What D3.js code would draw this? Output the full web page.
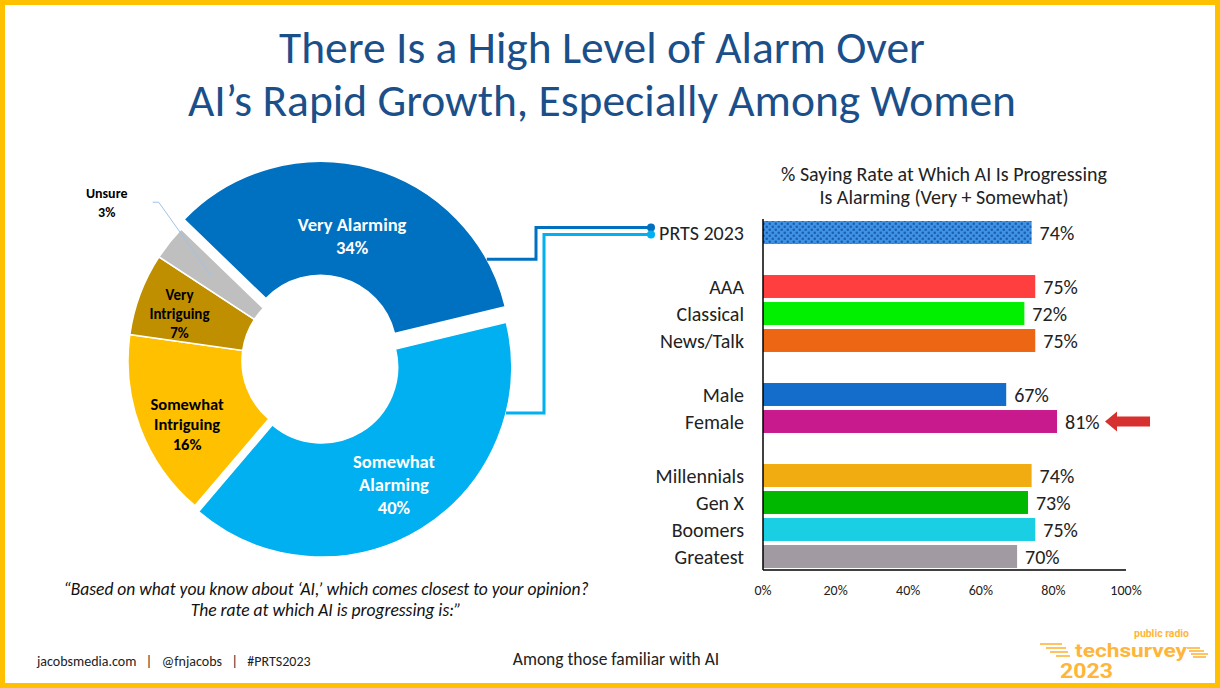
<!DOCTYPE html>
<html>
<head>
<meta charset="utf-8">
<script src="https://cdn.jsdelivr.net/npm/d3@7/dist/d3.min.js"></script>
<style>
	html, body { margin: 0; padding: 0; background: #fff; }
	svg { display: block; font-family: Carlito, Calibri, Lato, sans-serif; }
</style>
</head>
<body>
<div id="main"></div>
<script>
	// donut data
	var donutLabels = ['Very Alarming', 'Somewhat Alarming', 'Somewhat Intriguing', 'Very Intriguing', 'Unsure'];
	var donutValues = [34, 40, 16, 7, 3];
	var donutColors = ['#0070C0', '#00B0F0', '#FFC000', '#BF8F00', '#BFBFBF'];

	// bar data (null = spacer row)
	var barCategories = ['PRTS 2023', 'gap1', 'AAA', 'Classical', 'News/Talk', 'gap2', 'Male', 'Female', 'gap3', 'Millennials', 'Gen X', 'Boomers', 'Greatest'];
	var barValues = [74, null, 75, 72, 75, null, 67, 81, null, 74, 73, 75, 70];
	var barColors = ['url(#prts)', null, '#FF3F3F', '#00F000', '#EC6613', null, '#146CCB', '#C81A8C', null, '#F0AC10', '#00B800', '#1ACFE3', '#A29AA2'];
	var xTicks = [0, 20, 40, 60, 80, 100];

	var W = 1220, H = 688;
	var svg = d3.select('#main').append('svg')
		.attr('width', W)
		.attr('height', H);

	var defs = svg.append('defs');
	var pat = defs.append('pattern')
		.attr('id', 'prts')
		.attr('patternUnits', 'userSpaceOnUse')
		.attr('width', 6)
		.attr('height', 6);
	pat.append('rect').attr('width', 6).attr('height', 6).attr('fill', '#3F93E6');
	pat.append('rect').attr('x', 0.5).attr('y', 0.5).attr('width', 2.5).attr('height', 2.5).attr('rx', 1).attr('fill', '#1D5FAE');
	pat.append('rect').attr('x', 3.5).attr('y', 3.5).attr('width', 2.5).attr('height', 2.5).attr('rx', 1).attr('fill', '#1D5FAE');

	// slide border
	svg.append('rect')
		.attr('x', 2.5).attr('y', 2.5)
		.attr('width', W - 5).attr('height', H - 5)
		.attr('fill', '#fff')
		.attr('stroke', '#FFC000')
		.attr('stroke-width', 5);

	// title
	svg.append('text')
		.attr('text-anchor', 'middle')
		.attr('fill', '#1B4F8A')
		.attr('font-size', 45.5)
		.selectAll('tspan')
		.data(['There Is a High Level of Alarm Over', 'AI\u2019s Rapid Growth, Especially Among Women'])
		.enter().append('tspan')
		.attr('x', 602)
		.attr('y', (d, i) => 63 + i * 53)
		.text(d => d);

	// ---------- donut ----------
	var cx = 318, cy = 361, outerR = 190, innerR = 76;
	var explode = [10, 7, 0, 0, 0];
	var startA = -46 * Math.PI / 180;
	var pie = d3.pie().sort(null).startAngle(startA).endAngle(startA + 2 * Math.PI);
	var arc = d3.arc().innerRadius(innerR).outerRadius(outerR);
	var arcs = pie(donutValues);

	var donut = svg.append('g').attr('transform', 'translate(' + [cx, cy] + ')');

	function offset(d, i) {
		var m = (d.startAngle + d.endAngle) / 2;
		return [explode[i] * Math.sin(m), -explode[i] * Math.cos(m)];
	}

	donut.selectAll('path.slice')
		.data(arcs)
		.enter().append('path')
		.attr('class', 'slice')
		.attr('transform', (d, i) => 'translate(' + offset(d, i) + ')')
		.attr('d', arc)
		.attr('fill', (d, i) => donutColors[i])
		.attr('stroke', '#fff')
		.attr('stroke-width', 1.5);

	// point at radius r on a slice at a given angle (deg)
	function edgePoint(i, deg, r) {
		var a = deg * Math.PI / 180;
		var o = offset(arcs[i], i);
		return [cx + o[0] + r * Math.sin(a), cy + o[1] - r * Math.cos(a)];
	}

	// slice labels
	var labelLines = [['Very Alarming', '34%'], ['Somewhat', 'Alarming', '40%'], ['Somewhat', 'Intriguing', '16%'], ['Very', 'Intriguing', '7%'], ['Unsure', '3%']];
	var labelColor = ['#fff', '#fff', '#000', '#000', '#000'];
	var labelSize = [18.5, 18.5, 16.5, 15, 14];
	var labelR = [120, 138, 140, 148, 0];
	var labelNudge = [0, 0, 14, 5, 0];
	var labelGap = [23, 23, 20, 19, 19];

	arcs.forEach(function(d, i) {
		var m = (d.startAngle + d.endAngle) / 2;
		var o = offset(d, i);
		var lx, ly;
		if (i === 4) {
			var p = edgePoint(4, m * 180 / Math.PI, outerR + 10);
			lx = p[0] - 55; ly = p[1] - 34;
		} else {
			lx = cx + o[0] + labelR[i] * Math.sin(m);
			ly = cy + o[1] - labelR[i] * Math.cos(m) + labelNudge[i];
		}
		var n = labelLines[i].length;
		var t = svg.append('text')
			.attr('text-anchor', 'middle')
			.attr('font-weight', 'bold')
			.attr('font-size', labelSize[i])
			.attr('fill', labelColor[i]);
		labelLines[i].forEach(function(s, k) {
			t.append('tspan')
				.attr('x', lx)
				.attr('y', ly + (k - (n - 1) / 2) * labelGap[i] + labelSize[i] * 0.35)
				.text(s);
		});
		if (i === 4) {
			// leader line into the grey slice
			var inside = edgePoint(4, m * 180 / Math.PI, 137);
			svg.append('path')
				.attr('d', d3.line()([[lx + 46, ly], [lx + 52, ly], inside]))
				.attr('fill', 'none')
				.attr('stroke', '#9DC3E6')
				.attr('stroke-width', 1);
		}
	});

	// ---------- bar chart ----------
	var x = d3.scaleLinear().domain([0, 100]).range([763, 1126]);
	var y = d3.scaleBand().domain(barCategories).range([219, 570]).paddingInner(0.15).paddingOuter(0.075);

	svg.append('text')
		.attr('text-anchor', 'middle')
		.attr('font-size', 20)
		.attr('fill', '#222')
		.selectAll('tspan')
		.data(['% Saying Rate at Which AI Is Progressing', 'Is Alarming (Very + Somewhat)'])
		.enter().append('tspan')
		.attr('x', 944)
		.attr('y', (d, i) => 181 + i * 23)
		.text(d => d);

	var rows = barCategories.map((c, i) => ({ cat: c, v: barValues[i], col: barColors[i] }))
		.filter(d => d.v !== null);

	svg.selectAll('rect.bar')
		.data(rows)
		.enter().append('rect')
		.attr('class', 'bar')
		.attr('x', x(0))
		.attr('y', d => y(d.cat))
		.attr('width', d => x(d.v) - x(0))
		.attr('height', y.bandwidth())
		.attr('fill', d => d.col);

	svg.selectAll('text.cat')
		.data(rows)
		.enter().append('text')
		.attr('class', 'cat')
		.attr('x', 744)
		.attr('y', d => y(d.cat) + y.bandwidth() / 2)
		.attr('dy', '0.35em')
		.attr('text-anchor', 'end')
		.attr('font-size', 20)
		.attr('fill', '#222')
		.text(d => d.cat);

	svg.selectAll('text.val')
		.data(rows)
		.enter().append('text')
		.attr('class', 'val')
		.attr('x', d => x(d.v) + 8)
		.attr('y', d => y(d.cat) + y.bandwidth() / 2)
		.attr('dy', '0.35em')
		.attr('font-size', 20)
		.attr('fill', '#222')
		.text(d => d.v + '%');

	// axes
	svg.append('line')
		.attr('x1', x(0)).attr('x2', x(0))
		.attr('y1', 219).attr('y2', 570)
		.attr('stroke', '#000').attr('stroke-width', 1.5);
	svg.append('line')
		.attr('x1', x(0)).attr('x2', x(100))
		.attr('y1', 570).attr('y2', 570)
		.attr('stroke', '#000').attr('stroke-width', 1.5);
	svg.selectAll('text.tick')
		.data(xTicks)
		.enter().append('text')
		.attr('class', 'tick')
		.attr('x', d => x(d))
		.attr('y', 595)
		.attr('text-anchor', 'middle')
		.attr('font-size', 14)
		.attr('fill', '#222')
		.text(d => d + '%');

	// arrow pointing at Female
	var fy = y('Female') + y.bandwidth() / 2;
	var ax = x(81) + 48;
	svg.append('path')
		.attr('d', d3.line()([[ax, fy], [ax + 12, fy - 10], [ax + 12, fy - 5], [ax + 45, fy - 5], [ax + 45, fy + 5], [ax + 12, fy + 5], [ax + 12, fy + 10]]) + 'Z')
		.attr('fill', '#D6312E');

	// connector lines from donut to PRTS bar
	var py = y('PRTS 2023') + y.bandwidth() / 2;
	var dotX = 651;
	var conn = [
		{ p: edgePoint(0, 61, outerR), elbow: 536, ty: py - 5, col: '#0070C0' },
		{ p: edgePoint(1, 104, outerR), elbow: 544, ty: py + 2, col: '#00B0F0' }
	];
	conn.forEach(function(c) {
		svg.append('path')
			.attr('d', d3.line()([c.p, [c.elbow, c.p[1]], [c.elbow, c.ty], [dotX, c.ty]]))
			.attr('fill', 'none')
			.attr('stroke', c.col)
			.attr('stroke-width', 3);
		svg.append('circle')
			.attr('cx', dotX).attr('cy', c.ty).attr('r', 4)
			.attr('fill', c.col);
	});

	// question text
	svg.append('text')
		.attr('text-anchor', 'middle')
		.attr('font-style', 'italic')
		.attr('font-size', 17.5)
		.attr('fill', '#111')
		.selectAll('tspan')
		.data(['\u201CBased on what you know about \u2018AI,\u2019 which comes closest to your opinion?', 'The rate at which AI is progressing is:\u201D'])
		.enter().append('tspan')
		.attr('x', 326)
		.attr('y', (d, i) => 595 + i * 21)
		.text(d => d);

	// footer
	svg.append('text')
		.attr('x', 37).attr('y', 666)
		.attr('font-size', 14)
		.attr('fill', '#222')
		.attr('xml:space', 'preserve')
		.text('jacobsmedia.com   |   @fnjacobs   |   #PRTS2023');
	svg.append('text')
		.attr('x', 616).attr('y', 665)
		.attr('text-anchor', 'middle')
		.attr('font-size', 17.5)
		.attr('fill', '#222')
		.text('Among those familiar with AI');

	// logo
	var logo = svg.append('g').attr('fill', '#FFB53A').attr('font-family', 'Roboto, Arial, sans-serif').attr('font-weight', 'bold');
	logo.append('text').attr('x', 1134).attr('y', 637).attr('font-size', 10)
		.attr('textLength', 55).attr('lengthAdjust', 'spacingAndGlyphs').text('public radio');
	logo.append('text').attr('x', 1075).attr('y', 657).attr('font-size', 18)
		.attr('textLength', 112).attr('lengthAdjust', 'spacingAndGlyphs').text('techsurvey');
	logo.append('text').attr('x', 1060).attr('y', 678).attr('font-size', 20)
		.attr('textLength', 53).attr('lengthAdjust', 'spacingAndGlyphs').text('2023');
	var speed = [[1040, 1062, 644], [1046, 1066, 648], [1050, 1068, 652], [1056, 1070, 656],
		[1187, 1200, 648], [1189, 1204, 651], [1191, 1208, 654], [1193, 1206, 657]];
	logo.selectAll('line')
		.data(speed)
		.enter().append('line')
		.attr('x1', d => d[0]).attr('x2', d => d[1])
		.attr('y1', d => d[2]).attr('y2', d => d[2])
		.attr('stroke', '#FFB53A').attr('stroke-width', 1.6);
</script>
</body>
</html>
